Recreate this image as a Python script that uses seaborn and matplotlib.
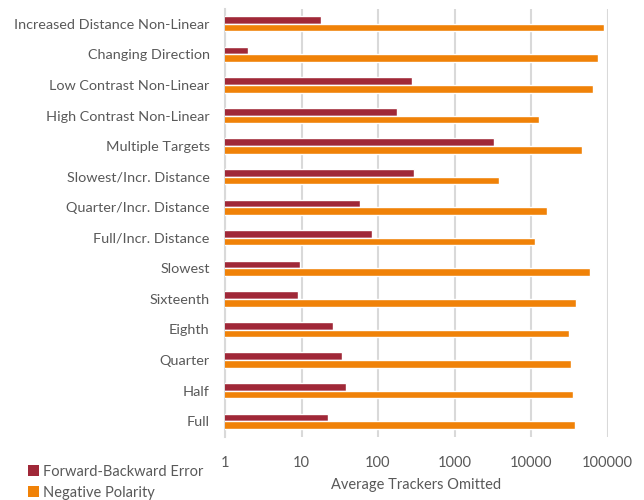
import matplotlib
matplotlib.use("Agg")
import matplotlib.pyplot as plt
import seaborn as sns
import pandas as pd
from matplotlib.patches import Patch
from matplotlib.ticker import FixedLocator, FixedFormatter, NullLocator

# Scenarios, listed top to bottom
scenarios = [
    "Increased Distance Non-Linear",
    "Changing Direction",
    "Low Contrast Non-Linear",
    "High Contrast Non-Linear",
    "Multiple Targets",
    "Slowest/Incr. Distance",
    "Quarter/Incr. Distance",
    "Full/Incr. Distance",
    "Slowest",
    "Sixteenth",
    "Eighth",
    "Quarter",
    "Half",
    "Full",
]

forward_backward_error = [18, 2, 280, 175, 3270, 300, 59, 84, 9.6, 8.9, 26, 34, 38, 22]
negative_polarity = [89500, 76000, 65500, 12900, 46500, 3800, 16100, 11200,
                     58800, 38200, 31300, 32900, 35900, 37200]

series_names = ["Forward-Backward Error", "Negative Polarity"]
tick_values = [1, 10, 100, 1000, 10000, 100000]
tick_labels = ["1", "10", "100", "1000", "10000", "100000"]

df = pd.DataFrame({
    "Scenario": scenarios * 2,
    "Series": [series_names[0]] * len(scenarios) + [series_names[1]] * len(scenarios),
    "Value": forward_backward_error + negative_polarity,
})

colors = {series_names[0]: "#A02838", series_names[1]: "#F08208"}
text_color = "#595959"
grid_color = "#D9D9D9"

sns.set_theme(style="white")
plt.rcParams["font.family"] = ["Lato", "DejaVu Sans"]

fig = plt.figure(figsize=(6.44, 5.0), dpi=100)
ax = fig.add_axes([225 / 644, 1 - 436.5 / 500, (607.5 - 225) / 644, (436.5 - 8.5) / 500])

sns.barplot(data=df, y="Scenario", x="Value", hue="Series", order=scenarios,
            hue_order=series_names, palette=colors, orient="h", width=0.5,
            saturation=1, legend=False, ax=ax, zorder=3)

ax.set_xscale("log")
ax.set_xlim(1, 100000)
ax.set_ylim(len(scenarios) - 0.5, -0.5)
ax.xaxis.set_major_locator(FixedLocator(tick_values))
ax.xaxis.set_major_formatter(FixedFormatter(tick_labels))
ax.xaxis.set_minor_locator(NullLocator())

ax.grid(axis="x", color=grid_color, linewidth=1.5, zorder=0)
ax.grid(axis="y", visible=False)
for side in ["top", "right", "bottom"]:
    ax.spines[side].set_visible(False)
ax.spines["left"].set_color(grid_color)
ax.spines["left"].set_linewidth(1.5)

ax.tick_params(axis="y", length=0, pad=11, labelsize=10.4, labelcolor=text_color)
ax.tick_params(axis="x", length=0, pad=14, labelsize=10.5, labelcolor=text_color)
ax.set_ylabel("")
ax.set_xlabel("Average Trackers Omitted", fontsize=10.5, color=text_color, labelpad=6)

handles = [Patch(facecolor=colors[s], edgecolor="none", label=s) for s in series_names]
fig.legend(handles=handles, loc="lower left", bbox_to_anchor=(15 / 644, -13 / 500),
           frameon=False, fontsize=10.5, labelcolor=text_color,
           handlelength=0.75, handleheight=0.75, handletextpad=0.3, labelspacing=0.5)

fig.savefig("out.png", dpi=100)
